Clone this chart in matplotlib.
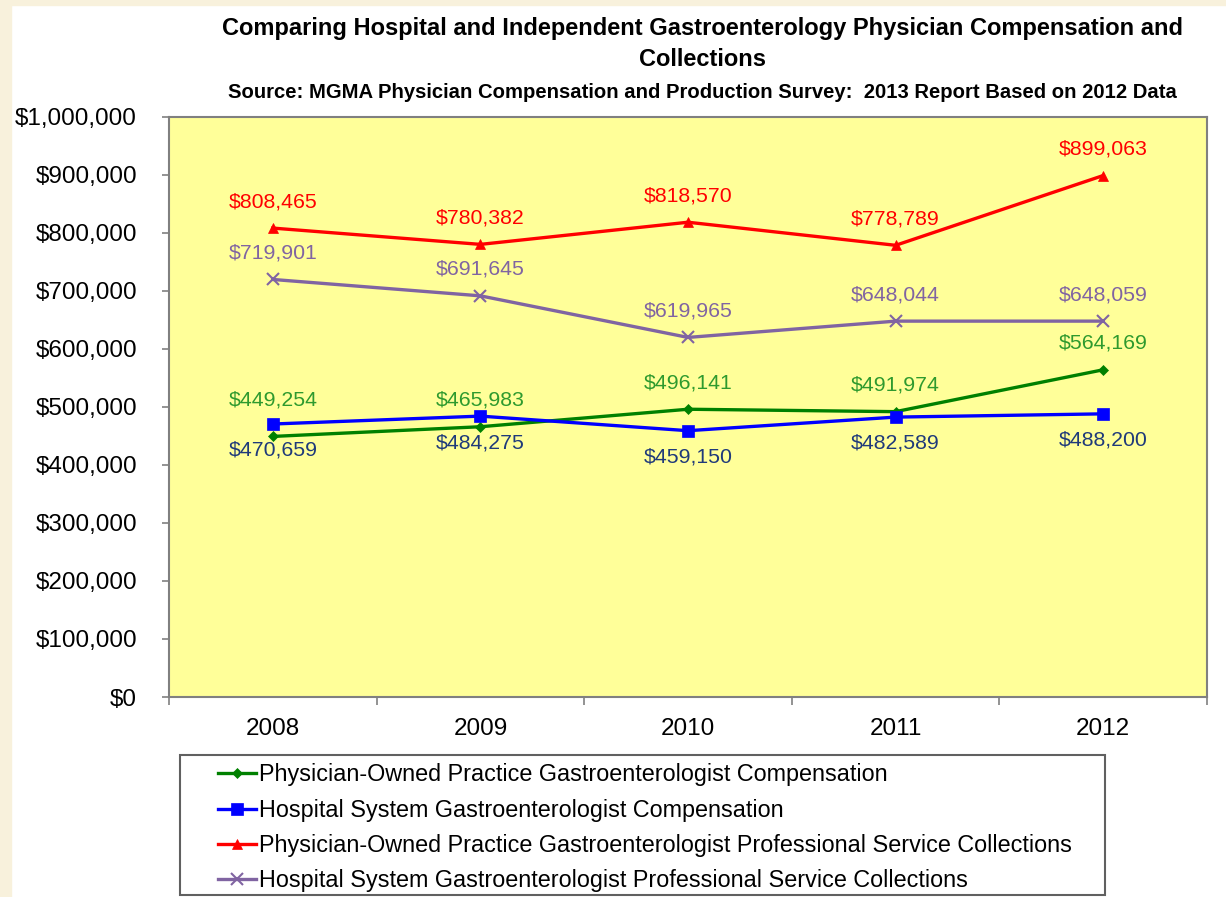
import matplotlib
matplotlib.use("Agg")
import matplotlib.pyplot as plt
from matplotlib.patches import Rectangle
from matplotlib.ticker import FuncFormatter, FixedLocator

plt.rcParams['font.family'] = ['Liberation Sans', 'DejaVu Sans']

# Data
years = ["2008", "2009", "2010", "2011", "2012"]
owned_comp = [449254, 465983, 496141, 491974, 564169]
hospital_comp = [470659, 484275, 459150, 482589, 488200]
owned_collections = [808465, 780382, 818570, 778789, 899063]
hospital_collections = [719901, 691645, 619965, 648044, 648059]

labels = [
    "Physician-Owned Practice Gastroenterologist Compensation",
    "Hospital System Gastroenterologist Compensation",
    "Physician-Owned Practice Gastroenterologist Professional Service Collections",
    "Hospital System Gastroenterologist Professional Service Collections",
]

W, H = 1226, 897
fig = plt.figure(figsize=(W / 100, H / 100), dpi=100)
fig.patch.set_facecolor("white")

# beige frame on left and top
beige = "#F8F1DC"
fig.patches.append(Rectangle((0, 0), 11 / W, 1, transform=fig.transFigure, color=beige, zorder=0))
fig.patches.append(Rectangle((0, 1 - 5 / H), 1, 5 / H, transform=fig.transFigure, color=beige, zorder=0))

ax = fig.add_axes([169 / W, 1 - 697 / H, (1207 - 169) / W, (697 - 117) / H])
ax.set_facecolor("#FFFF99")
x = list(range(len(years)))

# values, line colour, marker, marker size, label colour, label offset (pt)
series = [
    (owned_comp, "#008000", "D", 5, "#2E9A2E", [26, 19, 19, 19, 19]),
    (hospital_comp, "#0000FF", "s", 8, "#1F3A7A", [-19] * 5),
    (owned_collections, "#FF0000", "^", 7, "#FF0000", [19] * 5),
    (hospital_collections, "#8064A2", "x", 8, "#8064A2", [19] * 5),
]

handles = []
for (vals, color, marker, ms, lcolor, offs), lab in zip(series, labels):
    h, = ax.plot(x, vals, color=color, linewidth=2.4, marker=marker, markersize=ms,
                 markeredgewidth=1.5 if marker == "x" else 0.5, markeredgecolor=color,
                 label=lab, zorder=3)
    handles.append(h)
    for xi, v, off in zip(x, vals, offs):
        ax.annotate(f"${v:,.0f}", (xi, v), xytext=(0, off), textcoords="offset points",
                    ha="center", va="center", fontsize=15.3, color=lcolor)

ax.set_xlim(-0.5, 4.5)
ax.set_ylim(0, 1000000)
ax.yaxis.set_major_locator(FixedLocator(range(0, 1000001, 100000)))
ax.yaxis.set_major_formatter(FuncFormatter(lambda v, p: f"${v:,.0f}"))
ax.set_xticks(x)
ax.set_xticklabels(years)
ax.set_xticks([i - 0.5 for i in range(6)], minor=True)
ax.tick_params(axis="x", which="major", length=0, pad=15, labelsize=17.5)
ax.tick_params(axis="x", which="minor", length=6, width=1.2, color="#808080")
ax.tick_params(axis="y", length=5, width=1.2, color="#808080", pad=18, labelsize=17.5)
for s in ax.spines.values():
    s.set_color("#808080")
    s.set_linewidth(1.5)

# titles
fig.text(702 / W, 1 - 28 / H, "Comparing Hospital and Independent Gastroenterology Physician Compensation and",
         ha="center", va="center", fontsize=17, fontweight="bold")
fig.text(702 / W, 1 - 60 / H, "Collections", ha="center", va="center", fontsize=17, fontweight="bold")
fig.text(702 / W, 1 - 93 / H,
         "Source: MGMA Physician Compensation and Production Survey:  2013 Report Based on 2012 Data",
         ha="center", va="center", fontsize=14.6, fontweight="bold")

# legend box
fig.patches.append(Rectangle((180 / W, 1 - 895 / H), (1105 - 180) / W, (895 - 755) / H,
                             transform=fig.transFigure, facecolor="white", edgecolor="#606060",
                             linewidth=1.5, zorder=1))
fig.legend(handles=handles, loc="upper left", bbox_to_anchor=(202 / W, 1 - 747 / H),
           frameon=False, fontsize=16.8, handlelength=1.63, handletextpad=0.1,
           labelspacing=0.53, borderpad=0.2)

fig.savefig("out.png", dpi=100, facecolor=fig.get_facecolor())
